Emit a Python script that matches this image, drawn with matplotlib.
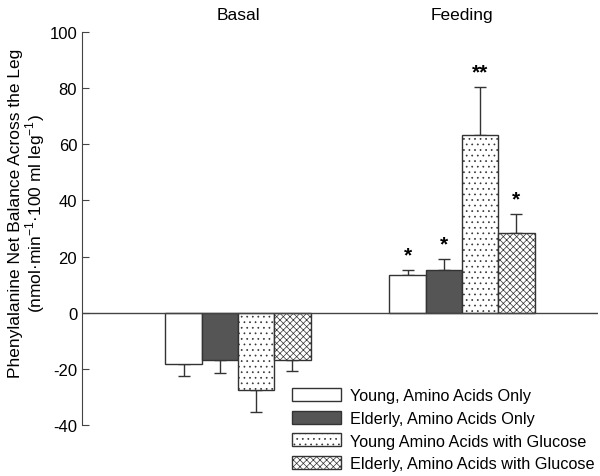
import matplotlib.pyplot as plt
import numpy as np

plt.rcParams['font.family'] = ['Liberation Sans', 'DejaVu Sans']
plt.rcParams['mathtext.fontset'] = 'custom'
plt.rcParams['mathtext.rm'] = 'Liberation Sans'
plt.rcParams['axes.unicode_minus'] = False
plt.rcParams['hatch.linewidth'] = 0.5

groups = ['Basal', 'Feeding']
series = ['Young, Amino Acids Only', 'Elderly, Amino Acids Only',
          'Young Amino Acids with Glucose', 'Elderly, Amino Acids with Glucose']
basal = [-18.3, -16.7, -27.5, -16.7]
feeding = [13.3, 15.3, 63.3, 28.2]
basal_err = [4.2, 4.8, 8.0, 4.2]
feeding_err = [2.0, 3.8, 17.0, 7.0]
feeding_stars = ['*', '*', '**', '*']

faces = ['white', '#555555', 'white', 'white']
hatches = [None, None, '...', 'xxxxx']

fig = plt.figure(figsize=(6, 4.77), dpi=100)
ax = fig.add_axes([0.1367, 0.107, 0.86, 0.824])

w = 0.162
x = np.array([0, 1])
for i in range(4):
    pos = x + (i - 1.5) * w
    vals = [basal[i], feeding[i]]
    errs = [basal_err[i], feeding_err[i]]
    ax.bar(pos, vals, w, color=faces[i], edgecolor='#333333', linewidth=1.0,
           hatch=hatches[i], label=series[i], zorder=2)
    # one-sided error bars, away from zero
    lo = [errs[0], 0]
    hi = [0, errs[1]]
    ax.errorbar(pos, vals, yerr=[lo, hi], fmt='none', ecolor='#333333',
                elinewidth=1.0, capsize=4.5, capthick=1.0, zorder=1)
    ax.text(pos[1], vals[1] + errs[1] + 2.0, feeding_stars[i], ha='center',
            va='bottom', fontsize=15, fontweight='bold')

ax.axhline(0, color='#444444', linewidth=1.0, zorder=3)
ax.set_xlim(-0.696, 1.607)
ax.set_ylim(-40, 100)
ax.set_yticks(range(-40, 101, 20))
ax.tick_params(axis='y', direction='in', length=5, labelsize=12, color='#444444')
ax.set_xticks([])
for s in ['top', 'right', 'bottom']:
    ax.spines[s].set_visible(False)
ax.spines['left'].set_color('#444444')

for g, xg in zip(groups, x):
    ax.text(xg, 1.025, g, transform=ax.get_xaxis_transform(), ha='center',
            va='bottom', fontsize=12.5)

ax.set_ylabel('Phenylalanine Net Balance Across the Leg\n'
              '(nmol·min$^{-1}$·100 ml leg$^{-1}$)', fontsize=12.5,
              linespacing=1.0)
ax.yaxis.set_label_coords(-0.068, 0.54)

fig.legend(loc='upper left', bbox_to_anchor=(292 / 600, 1 - 389 / 477),
           frameon=False, fontsize=11.7, handlelength=3.0, handleheight=0.85,
           handletextpad=0.6, labelspacing=0.47, borderaxespad=0, borderpad=0)

fig.savefig('out.png', dpi=100)
